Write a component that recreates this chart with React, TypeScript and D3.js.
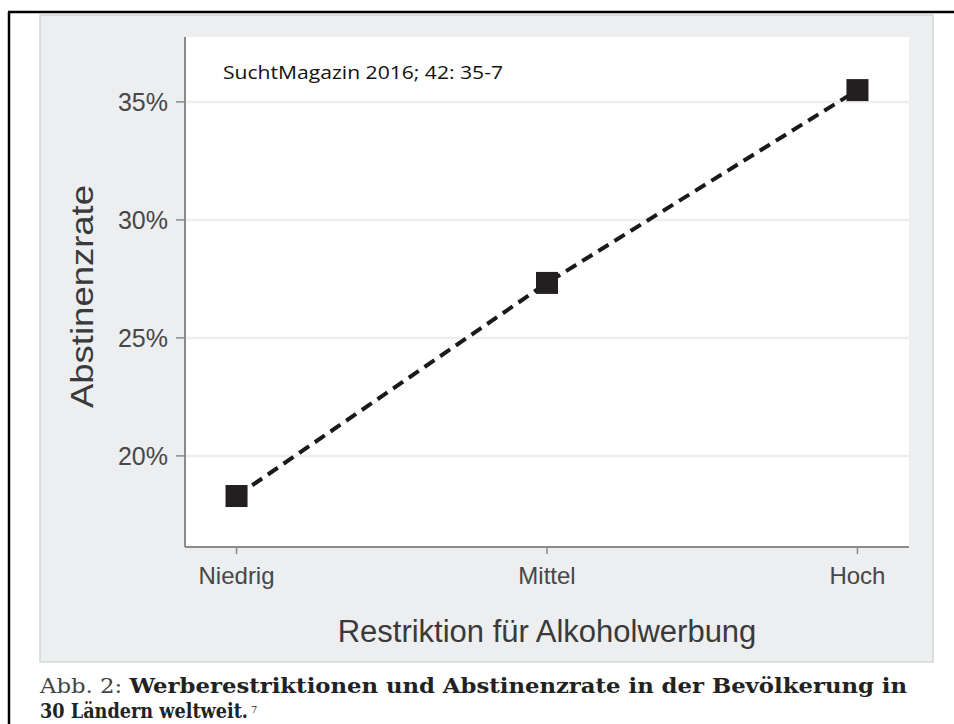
import React, { useLayoutEffect, useRef, useState } from "react";
import * as d3 from "d3";

const categories = ["Niedrig", "Mittel", "Hoch"];
const abstinence = [18.3, 27.33, 35.5];
const yTicks = [20, 25, 30, 35];
const yDomain = [16.14, 37.75];
const xTitle = "Restriktion für Alkoholwerbung";
const yTitle = "Abstinenzrate";
const sourceNote = "SuchtMagazin 2016; 42: 35-7";
const captionPrefix = "Abb. 2: ";
const captionLine1 = "Werberestriktionen und Abstinenzrate in der Bevölkerung in";
const captionLine2 = "30 Ländern weltweit.";
const captionNote = "7";

const W = 954;
const H = 724;
const plot = { left: 185, right: 909, top: 37, bottom: 547 };

export default function App() {
  const x = d3
    .scalePoint<string>()
    .domain(categories)
    .range([plot.left, plot.right])
    .padding(0.166);
  const y = d3.scaleLinear().domain(yDomain).range([plot.bottom, plot.top]);

  const pts = categories.map((c, i) => [x(c) as number, y(abstinence[i])] as [number, number]);
  const line = d3.line()(pts) || "";
  const sq = 22;
  const sans = "'Liberation Sans', Arial, Helvetica, sans-serif";

  const line2Ref = useRef<SVGTextElement>(null);
  const [k2, setK2] = useState(0.72);
  useLayoutEffect(() => {
    if (line2Ref.current) {
      const w = line2Ref.current.getComputedTextLength();
      if (w > 0) setK2(208 / w);
    }
  }, []);

  return (
    <svg
      width={W}
      height={H}
      style={{ position: "absolute", left: 0, top: 0, display: "block", background: "#fff" }}
    >
      {/* outer frame */}
      <line x1={8} y1={12} x2={W} y2={12} stroke="#000" strokeWidth={2.5} />
      <line x1={9} y1={12} x2={9} y2={H} stroke="#000" strokeWidth={2.5} />

      {/* grey background */}
      <rect x={40} y={15} width={893} height={647} fill="#eceeef" stroke="#d5d7d8" strokeWidth={1.5} />

      {/* plot panel */}
      <rect
        x={plot.left}
        y={plot.top}
        width={plot.right - plot.left}
        height={plot.bottom - plot.top}
        fill="#ffffff"
      />

      {/* gridlines */}
      {yTicks.map((t) => (
        <line
          key={"g" + t}
          x1={plot.left}
          x2={plot.right}
          y1={y(t)}
          y2={y(t)}
          stroke="#eeeeee"
          strokeWidth={2.5}
        />
      ))}

      {/* axes */}
      <line x1={plot.left} x2={plot.left} y1={plot.top} y2={plot.bottom} stroke="#8a8a8a" strokeWidth={2} />
      <line x1={plot.left} x2={plot.right} y1={plot.bottom} y2={plot.bottom} stroke="#8a8a8a" strokeWidth={2} />

      {yTicks.map((t) => (
        <g key={"yt" + t}>
          <line x1={plot.left - 9} x2={plot.left} y1={y(t)} y2={y(t)} stroke="#8a8a8a" strokeWidth={1.5} />
          <text
            x={plot.left - 17}
            y={y(t)}
            dy="0.36em"
            textAnchor="end"
            fontFamily={sans}
            fontSize={25}
            fill="#474747"
          >
            {t}%
          </text>
        </g>
      ))}

      {categories.map((c) => (
        <g key={"xt" + c}>
          <line x1={x(c)} x2={x(c)} y1={plot.bottom} y2={plot.bottom + 7} stroke="#8a8a8a" strokeWidth={1.5} />
          <text
            x={x(c)}
            y={plot.bottom + 37}
            textAnchor="middle"
            fontFamily={sans}
            fontSize={24}
            fill="#474747"
          >
            {c}
          </text>
        </g>
      ))}

      {/* axis titles */}
      <text
        x={(plot.left + plot.right) / 2}
        y={642}
        textAnchor="middle"
        fontFamily={sans}
        fontSize={31}
        fill="#3a3a3a"
      >
        {xTitle}
      </text>
      <text
        transform={`translate(93, ${(185 + 408) / 2}) rotate(-90)`}
        textAnchor="middle"
        fontFamily={sans}
        fontSize={32}
        fill="#3a3a3a"
        textLength={223}
        lengthAdjust="spacingAndGlyphs"
      >
        {yTitle}
      </text>

      {/* data */}
      <path d={line} fill="none" stroke="#1a1a1a" strokeWidth={4} strokeDasharray="12 7" />
      {pts.map(([px, py], i) => (
        <rect key={"p" + i} x={px - sq / 2} y={py - sq / 2} width={sq} height={sq} fill="#231f20" />
      ))}

      {/* source note */}
      <text
        x={223}
        y={79}
        fontFamily="'Open Sans', 'Noto Sans', sans-serif"
        fontSize={18.5}
        fill="#111"
        textLength={280}
        lengthAdjust="spacingAndGlyphs"
      >
        {sourceNote}
      </text>

      {/* caption */}
      <text
        x={40}
        y={693}
        fontFamily="'DejaVu Serif', serif"
        fontSize={21}
        fill="#222"
        textLength={867}
        lengthAdjust="spacingAndGlyphs"
      >
        <tspan fill="#444" fontWeight="normal">{captionPrefix}</tspan>
        <tspan fontWeight="bold">{captionLine1}</tspan>
      </text>
      <g transform={`translate(40, 718) scale(${k2}, 1)`}>
        <text
          ref={line2Ref}
          x={0}
          y={0}
          fontFamily="'DejaVu Serif', serif"
          fontSize={21}
          fontWeight="bold"
          fill="#222"
        >
          {captionLine2}
        </text>
      </g>
      <text x={251} y={713} fontFamily="'DejaVu Serif', serif" fontSize={10} fill="#333">
        {captionNote}
      </text>
    </svg>
  );
}
